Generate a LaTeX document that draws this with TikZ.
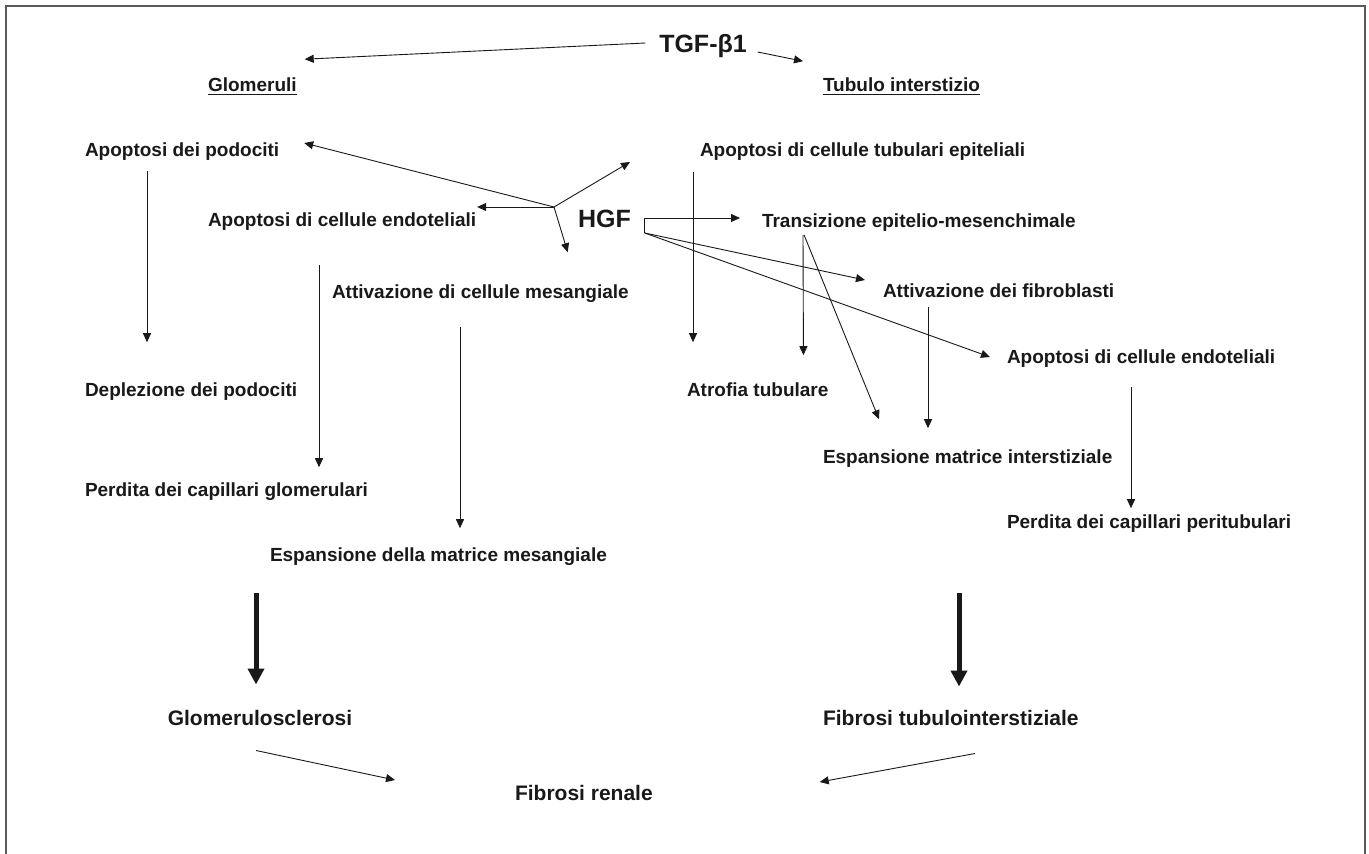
\documentclass[tikz,border=0pt]{standalone}
\usepackage{fontspec}
\setmainfont{Liberation Sans}
\usetikzlibrary{arrows.meta,calc}
\definecolor{ink}{RGB}{25,25,25}
\begin{document}
\begin{tikzpicture}[x=1pt,y=-1pt,
  lab/.style={inner sep=0pt, outer sep=0pt, anchor=west, text=ink,
    font=\bfseries\fontsize{19}{22}\selectfont, text height=13.6pt, text depth=0pt},
  biglab/.style={lab, font=\bfseries\fontsize{25}{28}\selectfont, text height=17.9pt},
  botlab/.style={lab, font=\bfseries\fontsize{21}{24}\selectfont, text height=15pt},
  arr/.style={draw=ink, line width=0.9pt, -{Triangle[length=9pt,width=8pt]}},
  heavyarrow/.style={draw=ink, line width=5pt, -{Triangle[length=16pt,width=16pt]}},
  ul/.style={draw=ink, line width=1.3pt},
  borderline/.style={draw=gray!70!black, line width=2pt}]
\useasboundingbox (0,0) rectangle (1369,854);
\path[fill=white] (0,0) rectangle (1369,854);
\draw[borderline] (6,856) -- (6,6) -- (1365,6) -- (1365,856);

% nodes
\node[biglab, anchor=center] (tgf) at (703,44) {TGF-β1};
\node[lab] (glom) at (208,85) {Glomeruli};
\node[lab] (tub) at (823,85) {Tubulo interstizio};
\node[lab] (apod) at (85,150) {Apoptosi dei podociti};
\node[lab] (atub) at (700,150) {Apoptosi di cellule tubulari epiteliali};
\node[lab] (aendL) at (208,220) {Apoptosi di cellule endoteliali};
\node[biglab] (hgf) at (578,219) {HGF};
\node[lab] (tem) at (762,221) {Transizione epitelio-mesenchimale};
\node[lab] (ames) at (332,292) {Attivazione di cellule mesangiale};
\node[lab] (afib) at (883,291) {Attivazione dei fibroblasti};
\node[lab] (aendR) at (1007,357) {Apoptosi di cellule endoteliali};
\node[lab] (dep) at (85,390) {Deplezione dei podociti};
\node[lab] (atr) at (687,390) {Atrofia tubulare};
\node[lab] (espI) at (823,457) {Espansione matrice interstiziale};
\node[lab] (pglo) at (85,490) {Perdita dei capillari glomerulari};
\node[lab] (pperi) at (1007,522) {Perdita dei capillari peritubulari};
\node[lab] (espM) at (270,555) {Espansione della matrice mesangiale};
\node[botlab, anchor=center] (gscl) at (260,718) {Glomerulosclerosi};
\node[botlab] (ftub) at (823,718) {Fibrosi tubulointerstiziale};
\node[botlab] (fren) at (515,793) {Fibrosi renale};

% underlines
\draw[ul] ([yshift=-2.5pt]glom.south west) -- ([yshift=-2.5pt]glom.south east);
\draw[ul] ([yshift=-2.5pt]tub.south west) -- ([yshift=-2.5pt]tub.south east);

% TGF arrows
\draw[arr] ([shift={(-14,-1)}]tgf.west) -- ([shift={(8,-19)}]glom.north east);
\draw[arr] ([shift={(11,8)}]tgf.east) -- ([shift={(-20,-17)}]tub.north west);

% HGF left fan
\coordinate (hj) at ([shift={(-24,-12)}]hgf.west);
\draw[arr] (hj) -- ([shift={(25,-7)}]apod.east);
\draw[arr] (hj) -- ([shift={(1,-13)}]aendL.east);
\draw[arr] (hj) -- ([shift={(-61,-33)}]ames.north east);
\draw[arr] (hj) -- ([shift={(-70,12)}]atub.west);

% HGF right bracket
\coordinate (hb1) at ([shift={(14,-1)}]hgf.east);
\coordinate (hb2) at ([shift={(14,14)}]hgf.east);
\draw[arr] (hb2) -- (hb1) -- ([shift={(-22,-3)}]tem.west);
\draw[arr] (hb2) -- ([shift={(-18,-11)}]afib.west);
\draw[arr] (hb2) -- ([shift={(-17,0)}]aendR.west);

% tubulo-interstitial column
\draw[arr] ([shift={(-7,15)}]atub.south west) -- ([shift={(6,-41)}]atr.north west);
\draw[arr] ([shift={(41,7)}]tem.south west) -- ([shift={(-25,-28)}]atr.north east);
\draw[arr] ([shift={(42,7)}]tem.south west) -- ([shift={(56,-31)}]espI.north west);
\draw[arr] ([shift={(45,9)}]afib.south west) -- ([shift={(105,-22)}]espI.north west);
\draw[arr] ([shift={(124,23)}]aendR.south west) -- ([shift={(124,-7)}]pperi.north west);

% glomerular column
\draw[arr] ([shift={(62,14)}]apod.south west) -- ([shift={(62,-41)}]dep.north west);
\draw[arr] ([shift={(111,38)}]aendL.south west) -- ([shift={(234,-16)}]pglo.north west);
\draw[arr] ([shift={(128,28)}]ames.south west) -- ([shift={(190,-20)}]espM.north west);

% heavy arrows
\draw[heavyarrow] ([shift={(-14,31)}]espM.south west) -- ([shift={(-4,-26)}]gscl.north);
\draw[heavyarrow] ([shift={(-48,64)}]pperi.south west) -- ([shift={(136,-24)}]ftub.north west);

% to renal fibrosis
\draw[arr] ([shift={(-4,25)}]gscl.south) -- ([shift={(-120,-13)}]fren.west);
\draw[arr] ([shift={(152,28)}]ftub.south west) -- ([shift={(167,-11)}]fren.east);
\end{tikzpicture}
\end{document}
